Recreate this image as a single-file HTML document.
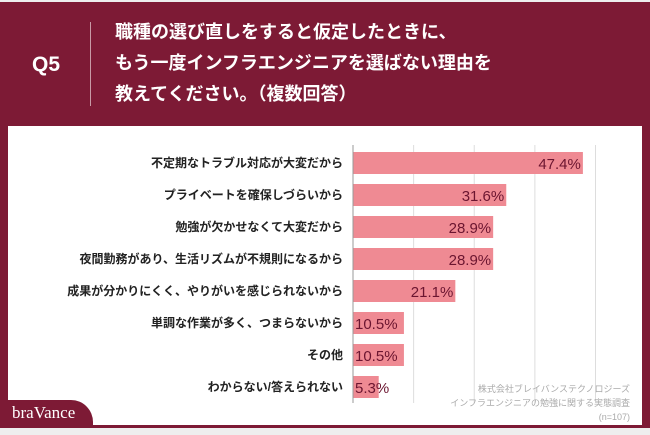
<!DOCTYPE html>
<html><head><meta charset="utf-8"><style>
body{margin:0;width:650px;height:435px;overflow:hidden;background:#eee;font-family:"Liberation Sans","Noto Sans CJK JP",sans-serif}
#frame{position:absolute;left:0;top:2px;width:650px;height:426px;background:#7d1a35}
#q{position:absolute;left:32px;top:53px;color:#fff;font-size:21px;font-weight:bold}
#div{position:absolute;left:90px;top:22px;width:1px;height:84px;background:#c89aa6}
#title{position:absolute;left:115px;top:17px;color:#fff;font-size:18px;font-weight:bold;line-height:31px;white-space:nowrap}
#panel{position:absolute;left:8px;top:126px;width:634px;height:299px;background:#fff}
#brand{position:absolute;left:0;top:400px;width:93px;height:28px;background:#7d1a35;border-top-right-radius:22px}
#brand span{position:absolute;left:12px;top:3px;color:#fff;font-family:"Liberation Serif",serif;font-size:17px}
</style></head><body>
<div id="frame"></div>
<div id="q">Q5</div>
<div id="div"></div>
<div id="title">職種の選び直しをすると仮定したときに、<br>もう一度インフラエンジニアを選ばない理由を<br>教えてください。（複数回答）</div>
<div id="panel"></div>
<svg id="chart" width="650" height="435" style="position:absolute;left:0;top:0"></svg>
<div id="brand"><span>braVance</span></div>
<script>
const categories=["不定期なトラブル対応が大変だから","プライベートを確保しづらいから","勉強が欠かせなくて大変だから","夜間勤務があり、生活リズムが不規則になるから","成果が分かりにくく、やりがいを感じられないから","単調な作業が多く、つまらないから","その他","わからない/答えられない"];
const values=[47.4,31.6,28.9,28.9,21.1,10.5,10.5,5.3];
const gridTicks=[12.5,25,37.5,50];
const svg=document.getElementById('chart');
const NS='http://www.w3.org/2000/svg';
const x0=353,pxPer=4.85,y0=152,pitch=32,bh=22;
const xs=v=>x0+v*pxPer;
function mk(t,a){const e=document.createElementNS(NS,t);for(const k in a)e.setAttribute(k,a[k]);svg.appendChild(e);return e;}
gridTicks.forEach(t=>{const g=mk('line',{x1:xs(t),x2:xs(t),y1:145,y2:403,stroke:'#ddd','stroke-width':1});

});
values.forEach((v,i)=>{const y=y0+i*pitch;
const r=mk('rect',{x:x0,y:y,width:v*pxPer,height:bh,fill:'#ef8a93'});


const lt=mk('text',{x:v>15?xs(v)-2:x0+2,y:y+17,'text-anchor':v>15?'end':'start','font-size':15,fill:'#6b1530'});
lt.textContent=v.toFixed(1)+'%';


const c=mk('text',{x:343,y:y+15,'text-anchor':'end','font-size':12,'font-weight':'bold',fill:'#222'});
c.textContent=categories[i];

});
const ax=mk('line',{x1:x0,x2:x0,y1:145,y2:403,stroke:'#999','stroke-width':1});


["株式会社ブレイバンステクノロジーズ","インフラエンジニアの勉強に関する実態調査","(n=107)"].forEach((s,i)=>{const t=mk('text',{x:630,y:392+i*14,'text-anchor':'end','font-size':9,fill:'#aaa'});t.textContent=s;

});
</script>
</body></html>
